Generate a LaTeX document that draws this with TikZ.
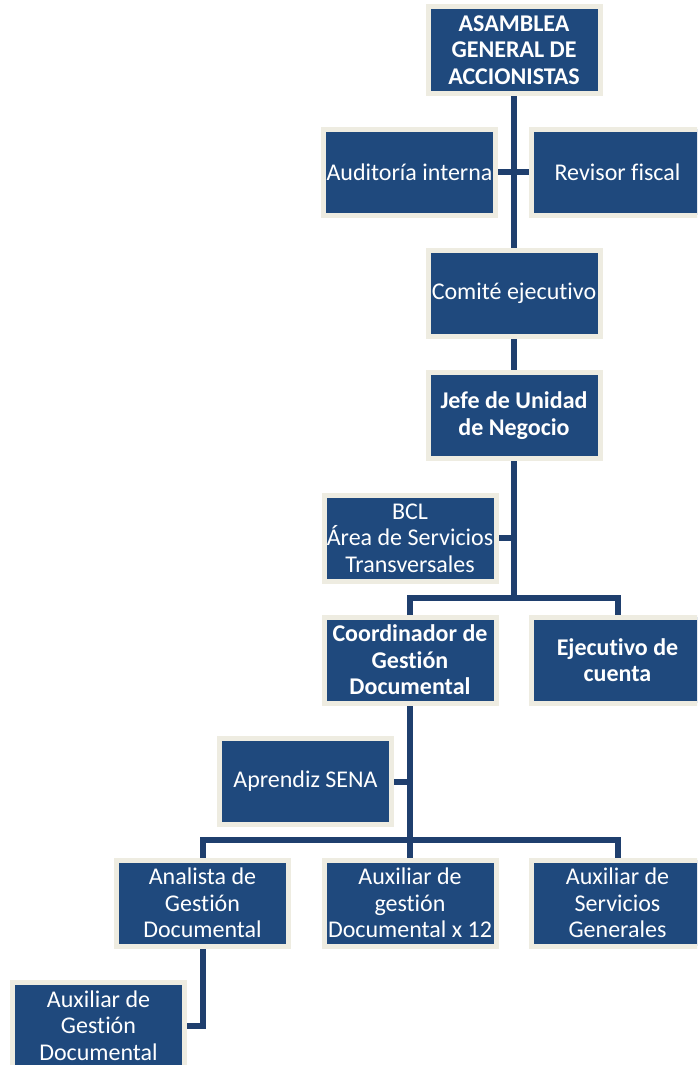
\documentclass[tikz,border=0pt]{standalone}
\usepackage{fontspec}
\setmainfont{Carlito}[Ligatures={NoCommon}]
\usetikzlibrary{backgrounds}
\definecolor{boxblue}{HTML}{1F497D}
\definecolor{boxrim}{HTML}{EEECE1}
\definecolor{linkblue}{HTML}{1F3F6E}
\tikzset{
  unit/.style={rectangle, draw=boxrim, line width=5pt, fill=boxblue,
    minimum width=172pt, minimum height=86pt, inner sep=0pt, outer sep=2.5pt,
    text=white, align=center,
    font=\fontsize{24}{26.5}\selectfont},
  headunit/.style={unit, font=\fontsize{24}{26.5}\selectfont\bfseries},
  link/.style={draw=linkblue, line width=6pt}
}
\begin{document}
\begin{tikzpicture}[x=1pt,y=-1pt]
\useasboundingbox (0,0) rectangle (697,1065);
\begin{scope}
\clip (0,0) rectangle (697,1065);
% governing bodies
\node[headunit] (asam) at (514,50) {ASAMBLEA\\GENERAL DE\\ACCIONISTAS};
\node[unit] (audit) at (409.5,172) {Auditoría interna};
\node[unit] (revisor) at (617.5,172) {Revisor fiscal};
\node[unit] (comite) at (514,293.5) {Comité ejecutivo};
\node[headunit] (jefe) at (514,415.5) {Jefe de Unidad\\de Negocio};
% business unit
\node[unit] (bcl) at (410,538) {BCL\\Área de Servicios\\Transversales};
\node[headunit] (coord) at (410,660) {Coordinador de\\Gestión\\Documental};
\node[headunit] (ejec) at (617.5,660) {Ejecutivo de\\cuenta};
\node[unit] (aprendiz) at (305.5,781.5) {Aprendiz SENA};
% document management staff
\node[unit] (analista) at (202.5,903) {Analista de\\Gestión\\Documental};
\node[unit] (auxgd) at (410,903) {Auxiliar de\\gestión\\Documental x 12};
\node[unit] (auxsg) at (617.5,903) {Auxiliar de\\Servicios\\Generales};
\node[unit] (auxbot) at (98.5,1025.5) {Auxiliar de\\Gestión\\Documental};

% junction points
\coordinate (cross) at (asam.south |- audit.east);
\coordinate (bclj) at (jefe.south |- bcl.east);
\coordinate (busA) at (514,598);
\coordinate (aprj) at (coord.south |- aprendiz.east);
\coordinate (busB) at (410,840);
\coordinate (auxj) at (analista.south |- auxbot.east);

\begin{scope}[on background layer]
\draw[link] (asam.south) -- (comite.north);
\draw[link] (audit.east) -- (revisor.west);
\draw[link] (comite.south) -- (jefe.north);
\draw[link] (jefe.south) -- (busA);
\draw[link] (bcl.east) -- (bclj);
\draw[link] (coord.north) |- (busA) -| (ejec.north);
\draw[link] (coord.south) -- (busB);
\draw[link] (aprendiz.east) -- (aprj);
\draw[link] (analista.north) |- (busB) -| (auxsg.north);
\draw[link] (busB) -- (auxgd.north);
\draw[link] (analista.south) |- (auxbot.east);
\end{scope}
\end{scope}
\end{tikzpicture}
\end{document}
